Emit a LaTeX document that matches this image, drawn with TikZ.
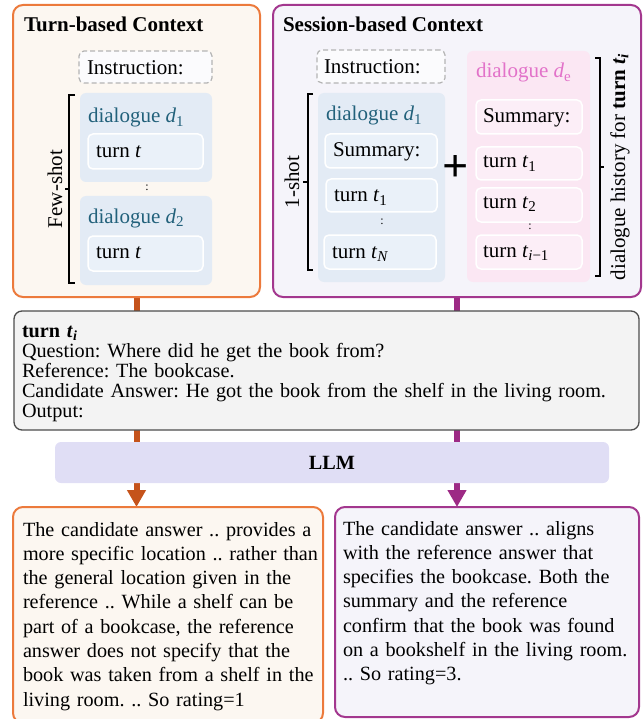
\documentclass[tikz,border=0pt]{standalone}
\usepackage{fontspec}
\setmainfont{Liberation Serif}
\usetikzlibrary{arrows.meta}
\frenchspacing
\definecolor{orB}{HTML}{EC7A3C}
\definecolor{orF}{HTML}{FCF7F1}
\definecolor{orC}{HTML}{C5531B}
\definecolor{puB}{HTML}{A3378E}
\definecolor{puF}{HTML}{F5F4FA}
\definecolor{puC}{HTML}{9D2A85}
\definecolor{blF}{HTML}{E3EBF5}
\definecolor{blI}{HTML}{EAF1F9}
\definecolor{blT}{HTML}{22617B}
\definecolor{piF}{HTML}{FBE7F3}
\definecolor{piI}{HTML}{FCEEF7}
\definecolor{piT}{HTML}{E272C9}
\definecolor{grD}{HTML}{B4B4B4}
\definecolor{turnF}{HTML}{F3F3F3}
\definecolor{turnB}{HTML}{4D4D4D}
\definecolor{llmF}{HTML}{E0DEF5}
\newcommand\fA{\fontsize{21}{24}\selectfont}
\newcommand\fB{\fontsize{20.2}{20}\selectfont}
\newcommand\fC{\fontsize{20.2}{24.3}\selectfont}
\newcommand\ital[1]{\textit{#1}}
\newcommand\sbs[2][15]{\raisebox{-0.16em}{\fontsize{#1}{#1}\selectfont #2}}
\pgfdeclarelayer{bg}
\pgfsetlayers{bg,main}
\tikzset{
  box/.style={anchor=north west, inner sep=0pt, outer sep=0pt},
  outerL/.style={box, draw=orB, fill=orF, line width=2pt, rounded corners=10pt},
  outerP/.style={box, draw=puB, fill=puF, line width=2pt, rounded corners=10pt},
  instr/.style={box, draw=grD, fill=white!60!puF, line width=1.2pt, dash pattern=on 5pt off 3pt, rounded corners=5pt},
  dlgB/.style={box, fill=blF, rounded corners=6pt},
  dlgP/.style={box, fill=piF, rounded corners=6pt},
  innB/.style={box, draw=white, fill=blI, line width=1.5pt, rounded corners=5pt},
  innP/.style={box, draw=white, fill=piI, line width=1.5pt, rounded corners=5pt},
  turnbox/.style={box, draw=turnB, fill=turnF, line width=1.3pt, rounded corners=8pt},
  llmbox/.style={box, fill=llmF, rounded corners=6pt},
  txt/.style={anchor=base west, inner sep=0pt, outer sep=0pt, font=\fA},
  dotsym/.style={inner sep=0pt, font=\fontsize{12}{12}\selectfont},
  brace/.style={line width=1.3pt, black},
  connO/.style={line width=6pt, orC, -{Triangle[width=18pt,length=17pt]}},
  connP/.style={line width=6pt, puC, -{Triangle[width=18pt,length=17pt]}},
  para/.style={anchor=base west, inner sep=0pt, outer sep=0pt, align=left, text width=610pt},
}
\begin{document}
\begin{tikzpicture}[x=1pt,y=-1pt]
\useasboundingbox (0,0) rectangle (644,719);
\clip (0,0) rectangle (644,719);

% ---------- Turn-based context ----------
\node[outerL, minimum width=247pt, minimum height=292pt] (left) at (13,5) {};
\node[txt, font=\fA\bfseries] (ltitle) at (24,32) {Turn-based Context};
\node[instr, minimum width=133pt, minimum height=32pt] (linstr) at (79,51) {};
\node[txt] (linstrT) at (87,75) {Instruction:};
\node[dlgB, minimum width=132pt, minimum height=89pt] (ld1) at (80,93) {};
\node[txt, text=blT] (ld1T) at (88,123) {dialogue \ital{d}\sbs{1}};
\node[innB, minimum width=115pt, minimum height=35pt] (lt1) at (88,134) {};
\node[txt] (lt1T) at (96,158) {turn \ital{t}};
\node[dotsym] (ldots) at (147,188) {:};
\node[dlgB, minimum width=132pt, minimum height=89pt] (ld2) at (80,196) {};
\node[txt, text=blT] (ld2T) at (88,223) {dialogue \ital{d}\sbs{2}};
\node[innB, minimum width=115pt, minimum height=35pt] (lt2) at (88,236) {};
\node[txt] (lt2T) at (96,258) {turn \ital{t}};
\draw[brace] (75,95) -- (69,95) -- (69,283) -- (75,283);
\draw[brace] (69,189) -- (65,189);
\node[inner sep=0pt, rotate=90, font=\fA] (fewshot) at (55,189) {Few-shot};

% ---------- Session-based context ----------
\node[outerP, minimum width=368pt, minimum height=292pt] (right) at (273,5) {};
\node[txt, font=\fA\bfseries] (rtitle) at (283,32) {Session-based Context};
\node[instr, minimum width=128pt, minimum height=33pt] (rinstr) at (317,50) {};
\node[txt] (rinstrT) at (324,74) {Instruction:};
\node[dlgB, minimum width=127pt, minimum height=189pt] (rd1) at (318,93) {};
\node[txt, text=blT] (rd1T) at (326,121) {dialogue \ital{d}\sbs{1}};
\node[innB, minimum width=112pt, minimum height=34pt] (rsum) at (325,134) {};
\node[txt] (rsumT) at (333,157) {Summary:};
\node[innB, minimum width=111pt, minimum height=33pt] (rt1) at (326,179) {};
\node[txt] (rt1T) at (334,202) {turn \ital{t}\sbs{1}};
\node[dotsym] (rdots) at (382,222) {:};
\node[innB, minimum width=112pt, minimum height=34pt] (rtN) at (324,235) {};
\node[txt] (rtNT) at (332,258) {turn \ital{t}\sbs{\ital{N}}};
\node[inner sep=0pt, font=\fontsize{46}{46}\selectfont\bfseries] (plus) at (456,169) {+};
\node[dlgP, minimum width=123pt, minimum height=231pt] (de) at (467,51) {};
\node[txt, text=piT] (deT) at (476,78) {dialogue \ital{d}\sbs{e}};
\node[innP, minimum width=106pt, minimum height=34pt] (esum) at (476,100) {};
\node[txt] (esumT) at (483,123) {Summary:};
\node[innP, minimum width=106pt, minimum height=33pt] (et1) at (476,147) {};
\node[txt] (et1T) at (483,168) {turn \ital{t}\sbs{1}};
\node[innP, minimum width=106pt, minimum height=34pt] (et2) at (476,188) {};
\node[txt] (et2T) at (483,208) {turn \ital{t}\sbs{2}};
\node[dotsym] (edots) at (530,227) {:};
\node[innP, minimum width=106pt, minimum height=34pt] (eti) at (476,235) {};
\node[txt] (etiT) at (483,257) {turn \ital{t}\sbs{\ital{i}−1}};
\draw[brace] (313,94) -- (308,94) -- (308,270) -- (313,270);
\draw[brace] (308,182) -- (303,182);
\node[inner sep=0pt, rotate=90, font=\fA] (oneshot) at (292,182) {1-shot};
\draw[brace] (595,58) -- (600,58) -- (600,276) -- (595,276);
\draw[brace] (600,167) -- (604,167);
\node[inner sep=0pt, rotate=90, font=\fA] (hist) at (620,167) {dialogue history for \textbf{turn \textit{t}\sbs{\textit{i}}}};

% ---------- turn t_i ----------
\node[turnbox, minimum width=625pt, minimum height=119pt] (turn) at (14,311) {};
\node[para, font=\fB] (turnT) at (22,337) {\textbf{turn \textit{t}\sbs[14]{\textit{i}}}\\
Question: Where did he get the book from?\\
Reference: The bookcase.\\
Candidate Answer: He got the book from the shelf in the living room.\\
Output:};

% ---------- LLM ----------
\node[llmbox, minimum width=554pt, minimum height=41pt] (llm) at (55,442) {};
\node[inner sep=0pt, font=\fC\bfseries] (llmT) at (llm.center) {LLM};

% ---------- outputs ----------
\node[outerL, minimum width=310pt, minimum height=216pt] (botL) at (13,507) {};
\node[para, font=\fC] (botLT) at (23,536) {The candidate answer .. provides a\\
more specific location .. rather than\\
the general location given in the\\
reference .. While a shelf can be\\
part of a bookcase, the reference\\
answer does not specify that the\\
book was taken from a shelf in the\\
living room. .. So rating=1};
\node[outerP, minimum width=304pt, minimum height=210pt] (botR) at (335,507) {};
\node[para, font=\fC] (botRT) at (343,535) {The candidate answer .. aligns\\
with the reference answer that\\
specifies the bookcase. Both the\\
summary and the reference\\
confirm that the book was found\\
on a bookshelf in the living room.\\
.. So rating=3.};

% ---------- connectors ----------
\begin{pgfonlayer}{bg}
\draw[connO] (left.south) -- (left.south |- botL.north);
\draw[connP] (right.south) -- (right.south |- botR.north);
\end{pgfonlayer}
\end{tikzpicture}
\end{document}
